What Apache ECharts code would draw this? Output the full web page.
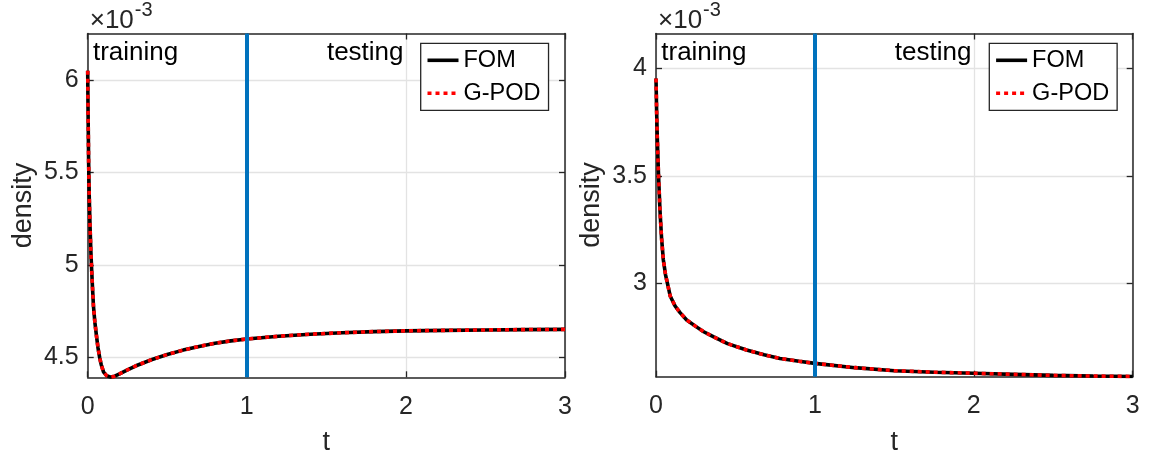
<!DOCTYPE html>
<html>
<head>
<meta charset="utf-8">
<title>density vs t</title>
<script src="https://cdn.jsdelivr.net/npm/echarts@6/dist/echarts.min.js"></script>
<style>
  html, body { margin: 0; padding: 0; background: #ffffff; }
  #chart { width: 1149px; height: 461px; }
</style>
</head>
<body>
<div id="chart"></div>
<script>
// Density history (values in units of 1e-3), two test cases.
const tLeft = [0, 0.002, 0.004, 0.006, 0.01, 0.015, 0.02, 0.025, 0.03, 0.036, 0.045, 0.056, 0.065, 0.075, 0.085, 0.1, 0.12, 0.144, 0.17, 0.2, 0.25, 0.3, 0.4, 0.5, 0.6, 0.7, 0.8, 0.9, 1.0, 1.2, 1.4, 1.6, 1.8, 2.0, 2.25, 2.5, 2.75, 3.0];
const fomLeft = [6.049, 5.85, 5.70, 5.55, 5.36, 5.20, 5.07, 4.97, 4.88, 4.78, 4.69, 4.61, 4.55, 4.50, 4.46, 4.42, 4.40, 4.393, 4.398, 4.41, 4.432, 4.453, 4.487, 4.515, 4.539, 4.559, 4.576, 4.589, 4.599, 4.614, 4.625, 4.633, 4.639, 4.643, 4.646, 4.648, 4.650, 4.651];
const gpodLeft = [6.049, 5.85, 5.70, 5.55, 5.36, 5.20, 5.07, 4.97, 4.88, 4.78, 4.69, 4.61, 4.55, 4.50, 4.46, 4.42, 4.40, 4.393, 4.398, 4.41, 4.432, 4.453, 4.487, 4.515, 4.539, 4.559, 4.576, 4.589, 4.599, 4.614, 4.625, 4.633, 4.639, 4.643, 4.646, 4.648, 4.650, 4.651];

const tRight = [0, 0.004, 0.008, 0.015, 0.025, 0.035, 0.046, 0.06, 0.072, 0.09, 0.12, 0.15, 0.193, 0.25, 0.3, 0.36, 0.45, 0.57, 0.68, 0.78, 0.9, 1.0, 1.25, 1.5, 1.75, 2.0, 2.25, 2.5, 2.75, 3.0];
const fomRight = [3.953, 3.80, 3.68, 3.52, 3.34, 3.21, 3.11, 3.04, 3.00, 2.94, 2.895, 2.865, 2.83, 2.80, 2.775, 2.752, 2.72, 2.69, 2.668, 2.651, 2.638, 2.628, 2.608, 2.594, 2.587, 2.582, 2.577, 2.572, 2.569, 2.567];
const gpodRight = [3.953, 3.80, 3.68, 3.52, 3.34, 3.21, 3.11, 3.04, 3.00, 2.94, 2.895, 2.865, 2.83, 2.80, 2.775, 2.752, 2.72, 2.69, 2.668, 2.651, 2.638, 2.628, 2.608, 2.594, 2.587, 2.582, 2.577, 2.572, 2.569, 2.567];

// Axis ranges and tick labels
const xTicks = [0, 1, 2, 3];
const yTicksLeft = [4.5, 5, 5.5, 6];
const yTicksRight = [3, 3.5, 4];
const yRangeLeft = [4.392, 6.251];
const yRangeRight = [2.566, 4.162];
const splitTime = 1;           // training / testing boundary
const seriesNames = ['FOM', 'G-POD'];

const FONT = "'Liberation Sans', Arial, Helvetica, sans-serif";
const AX = '#262626';
const GRID = '#e3e3e3';

const zip = (xs, ys) => xs.map((x, i) => [x, ys[i]]);

function xAxes(gridIndex) {
  const base = {
    type: 'value', gridIndex, min: xTicks[0], max: xTicks[xTicks.length - 1], interval: 1,
    axisLine: { show: true, onZero: false, lineStyle: { color: AX, width: 1.5 } },
    axisTick: { show: true, inside: true, length: 6, lineStyle: { color: AX, width: 1.3 } }
  };
  return [
    Object.assign({}, base, {
      position: 'bottom',
      axisLabel: { show: true, margin: 17, fontSize: 25, color: AX, fontFamily: FONT },
      splitLine: { show: true, lineStyle: { color: GRID, width: 1.3 } },
      name: 't', nameLocation: 'middle', nameGap: 52,
      nameTextStyle: { fontSize: 27, color: AX, fontFamily: FONT }
    }),
    Object.assign({}, base, {
      position: 'top',
      axisLabel: { show: false },
      splitLine: { show: false }
    })
  ];
}

function yAxes(gridIndex, range, ticks) {
  const base = {
    type: 'value', gridIndex, min: range[0], max: range[1],
    axisLine: { show: true, onZero: false, lineStyle: { color: AX, width: 1.5 } },
    axisTick: { show: true, inside: true, length: 6, customValues: ticks, lineStyle: { color: AX, width: 1.3 } }
  };
  return [
    Object.assign({}, base, {
      position: 'left',
      axisLabel: { show: true, customValues: ticks, margin: 9, fontSize: 25, color: AX, fontFamily: FONT,
                   formatter: v => String(v) },
      splitLine: { show: true, lineStyle: { color: GRID, width: 1.3 } },
      // exponent shown above the axis
      name: '{x|×10}{e|-3}', nameLocation: 'end', nameGap: 0,
      nameTextStyle: {
        align: 'left', verticalAlign: 'bottom', padding: [0, 0, 0, 2], fontFamily: FONT,
        rich: {
          x: { fontSize: 26, lineHeight: 26, verticalAlign: 'bottom', color: AX, fontFamily: FONT },
          e: { fontSize: 20, lineHeight: 20, verticalAlign: 'bottom', color: AX, fontFamily: FONT, padding: [0, 0, 13, 1] }
        }
      }
    }),
    Object.assign({}, base, {
      position: 'right',
      axisLabel: { show: false },
      splitLine: { show: false }
    })
  ];
}

// Invisible axis that only carries the "density" title
function titleAxis(gridIndex, range) {
  return {
    type: 'value', gridIndex, min: range[0], max: range[1], position: 'left',
    axisLine: { show: false }, axisTick: { show: false }, axisLabel: { show: false }, splitLine: { show: false },
    name: 'density', nameLocation: 'middle', nameGap: 51,
    nameTextStyle: { fontSize: 27, color: AX, fontFamily: FONT }
  };
}

function panelSeries(idx, t, fom, gpod, labelY) {
  return [
    {
      name: seriesNames[0], type: 'line', xAxisIndex: idx * 2, yAxisIndex: idx * 2,
      data: zip(t, fom), symbol: 'none', smooth: false,
      lineStyle: { color: '#000000', width: 3.6, cap: 'butt' },
      itemStyle: { color: '#000000' }, z: 2
    },
    {
      name: seriesNames[1], type: 'line', xAxisIndex: idx * 2, yAxisIndex: idx * 2,
      data: zip(t, gpod), symbol: 'none', smooth: false,
      lineStyle: { color: '#ff0000', width: 3.6, type: [4, 4], cap: 'butt' },
      itemStyle: { color: '#ff0000' }, z: 3
    },
    {
      name: 'split', type: 'line', xAxisIndex: idx * 2, yAxisIndex: idx * 2,
      data: [], z: 4, silent: true,
      markLine: {
        silent: true, symbol: ['none', 'none'], animation: false,
        label: { show: false },
        lineStyle: { color: '#0072BD', width: 4, type: 'solid' },
        data: [{ xAxis: splitTime }]
      },
      markPoint: {
        silent: true, symbol: 'circle', symbolSize: 0, animation: false,
        data: [
          { coord: [0.033, labelY], label: { show: true, position: 'right', distance: 0, formatter: 'training' } },
          { coord: [1.985, labelY], label: { show: true, position: 'left', distance: 0, formatter: 'testing' } }
        ],
        label: { fontSize: 26, color: '#000000', fontFamily: FONT }
      }
    }
  ];
}

function legendFor(left) {
  return {
    data: seriesNames, orient: 'vertical', left, top: 43.3,
    backgroundColor: '#ffffff', borderColor: AX, borderWidth: 1.3,
    padding: [3, 8, 3, 5], itemGap: 5, itemWidth: 31, itemHeight: 14,
    lineStyle: { width: 'inherit' },
    itemStyle: { opacity: 0 },
    textStyle: { fontSize: 23.5, lineHeight: 28, color: '#000000', fontFamily: FONT },
    selectedMode: false
  };
}

const chart = echarts.init(document.getElementById('chart'), null, { renderer: 'canvas' });
chart.setOption({
  animation: false,
  backgroundColor: '#ffffff',
  textStyle: { fontFamily: FONT },
  grid: [
    { left: 87.7, top: 33.5, width: 477.3, height: 343.8, outerBoundsMode: 'none', containLabel: false },
    { left: 656, top: 33.5, width: 476.7, height: 343.2, outerBoundsMode: 'none', containLabel: false }
  ],
  xAxis: xAxes(0).concat(xAxes(1)),
  yAxis: yAxes(0, yRangeLeft, yTicksLeft)
    .concat(yAxes(1, yRangeRight, yTicksRight))
    .concat([titleAxis(0, yRangeLeft), titleAxis(1, yRangeRight)]),
  legend: [legendFor(420.7), legendFor(989.3)],
  series: panelSeries(0, tLeft, fomLeft, gpodLeft, 6.144).concat(panelSeries(1, tRight, fomRight, gpodRight, 4.073))
});
</script>
</body>
</html>
